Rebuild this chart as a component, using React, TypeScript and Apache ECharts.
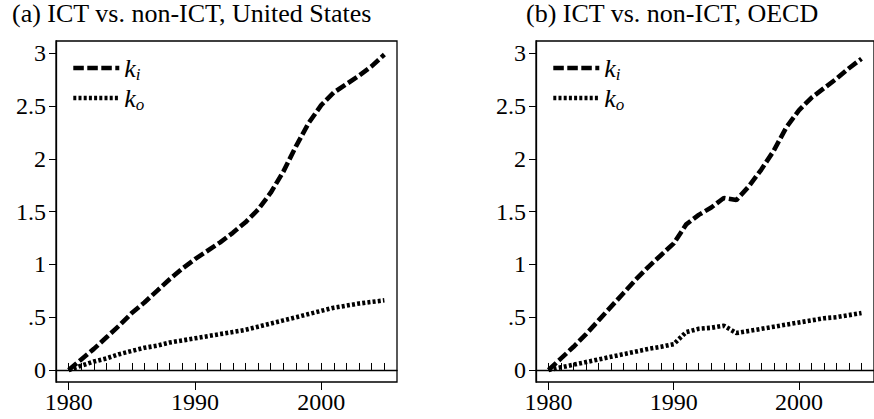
import React, { useEffect, useRef } from "react";
import * as echarts from "echarts";

const years = [1980, 1981, 1982, 1983, 1984, 1985, 1986, 1987, 1988, 1989, 1990, 1991, 1992, 1993, 1994, 1995, 1996, 1997, 1998, 1999, 2000, 2001, 2002, 2003, 2004, 2005];
const majorYears = [1980, 1990, 2000];
const yTicks = [0, 0.5, 1, 1.5, 2, 2.5, 3];

const usKi = [0, 0.10, 0.20, 0.31, 0.42, 0.54, 0.64, 0.75, 0.86, 0.96, 1.05, 1.13, 1.21, 1.30, 1.40, 1.52, 1.68, 1.88, 2.12, 2.34, 2.51, 2.63, 2.71, 2.79, 2.88, 2.99];
const usKo = [0, 0.04, 0.08, 0.11, 0.15, 0.18, 0.21, 0.23, 0.26, 0.28, 0.30, 0.32, 0.34, 0.36, 0.38, 0.41, 0.44, 0.47, 0.50, 0.53, 0.56, 0.59, 0.61, 0.63, 0.645, 0.66];
const oecdKi = [0, 0.11, 0.22, 0.34, 0.47, 0.60, 0.73, 0.86, 0.98, 1.09, 1.20, 1.38, 1.47, 1.54, 1.63, 1.61, 1.74, 1.90, 2.08, 2.30, 2.46, 2.58, 2.67, 2.76, 2.86, 2.95];
const oecdKo = [0, 0.025, 0.05, 0.075, 0.10, 0.125, 0.15, 0.175, 0.20, 0.22, 0.245, 0.36, 0.39, 0.40, 0.42, 0.35, 0.37, 0.39, 0.41, 0.43, 0.45, 0.47, 0.49, 0.50, 0.52, 0.54];

const titles = ["(a) ICT vs. non-ICT, United States", "(b) ICT vs. non-ICT, OECD"];

const FONT = "Liberation Serif";
const DASH = [10.5, 3.5];
const DOT = [3, 2.2];
const LW = 4.6;

function pairs(vals: number[]) {
  return years.map((y, i) => [y, vals[i]]);
}

export default function App() {
  const ref = useRef<HTMLDivElement>(null);
  useEffect(() => {
    if (!ref.current) return;
    const chart = echarts.init(ref.current, null, { renderer: "svg" });
    const grids = [
      { left: 56, top: 41, width: 341, height: 341 },
      { left: 536, top: 41, width: 341, height: 341 },
    ];
    const xAxes: any[] = [];
    const yAxes: any[] = [];
    grids.forEach((_, gi) => {
      xAxes.push({
        type: "value", gridIndex: gi, min: 1979, max: 2006, position: "bottom",
        splitLine: { show: false },
        axisLine: { show: true, lineStyle: { color: "#000", width: 1.3 } },
        axisTick: { show: true, inside: true, length: 7, customValues: years, lineStyle: { color: "#000", width: 1 } },
        axisLabel: { show: true, customValues: majorYears, margin: 8, fontSize: 24, fontFamily: FONT, color: "#000", formatter: (v: number) => String(v) },
      });
      xAxes.push({
        type: "value", gridIndex: gi, min: 1979, max: 2006, position: "bottom",
        splitLine: { show: false },
        axisLine: { show: false },
        axisTick: { show: true, inside: false, length: 8, customValues: majorYears, lineStyle: { color: "#000", width: 1 } },
        axisLabel: { show: false },
      });
      yAxes.push({
        type: "value", gridIndex: gi, min: -0.114, max: 3.118,
        splitLine: { show: false },
        axisLine: { show: true, lineStyle: { color: "#000", width: 1.3 } },
        axisTick: { show: true, length: 7, customValues: yTicks, lineStyle: { color: "#000", width: 1 } },
        axisLabel: {
          show: true, customValues: yTicks, margin: 10, fontSize: 24, fontFamily: FONT, color: "#000",
          formatter: (v: number) => String(v).replace(/^0\./, "."),
        },
      });
    });
    const mk = (name: string, vals: number[], gi: number, dash: number[]) => ({
      type: "line", name, xAxisIndex: gi * 2, yAxisIndex: gi, data: pairs(vals),
      showSymbol: false, symbol: "none", smooth: false,
      lineStyle: { color: "#000", width: LW, type: dash },
      itemStyle: { color: "#000" },
    });
    const rich = {
      k: { fontFamily: FONT, fontStyle: "italic", fontSize: 26, color: "#000", lineHeight: 30 },
      s: { fontFamily: FONT, fontStyle: "italic", fontSize: 17, color: "#000", lineHeight: 14, verticalAlign: "bottom" },
    };
    const mkLegend = (name: string, left: number, top: number, dash: number[]) => ({
      show: true, orient: "vertical", left, top, padding: 0, itemWidth: 46, itemHeight: 10,
      data: [name], selectedMode: false,
      lineStyle: { color: "#000", width: LW, type: dash },
      itemStyle: { opacity: 0 },
      formatter: (n: string) => (n === "ki" ? "{k|k}{s|i}" : "{k|k}{s|o}"),
      textStyle: { rich },
    });
    const tStyle = { fontSize: 26, fontWeight: "normal", fontFamily: FONT, color: "#000" };
    chart.setOption({
      animation: false,
      backgroundColor: "#fff",
      title: [
        { text: titles[0], left: 12, top: 0, padding: 0, textStyle: tStyle },
        { text: titles[1], left: 526, top: 0, padding: 0, textStyle: tStyle },
      ],
      grid: grids.map((g) => ({ ...g, show: true, borderColor: "#000", borderWidth: 1.3, backgroundColor: "transparent" })),
      xAxis: xAxes,
      yAxis: yAxes,
      legend: [
        mkLegend("ki", 71, 55, DASH),
        mkLegend("ko", 71, 85, DOT),
        mkLegend("ki", 551, 55, DASH),
        mkLegend("ko", 551, 85, DOT),
      ],
      series: [
        mk("ki", usKi, 0, DASH),
        mk("ko", usKo, 0, DOT),
        mk("ki", oecdKi, 1, DASH),
        mk("ko", oecdKo, 1, DOT),
      ],
    } as any);
    return () => chart.dispose();
  }, []);
  return <div ref={ref} style={{ position: "fixed", left: 0, top: 0, width: 874, height: 419 }} />;
}
